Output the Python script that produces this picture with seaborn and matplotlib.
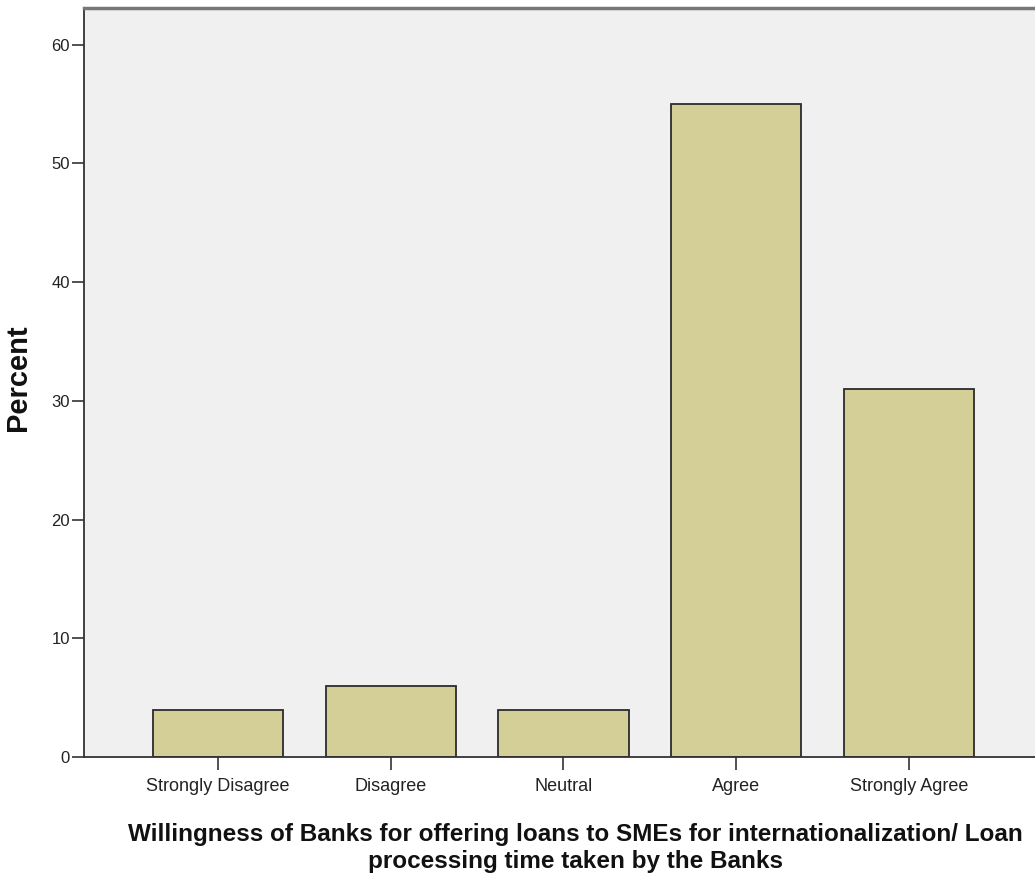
import matplotlib
matplotlib.use("Agg")
import matplotlib.pyplot as plt
import seaborn as sns
import pandas as pd

categories = ["Strongly Disagree", "Disagree", "Neutral", "Agree", "Strongly Agree"]
percents = [4, 6, 4, 55, 31]
yticks = [0, 10, 20, 30, 40, 50, 60]

sns.set_style("white")
fam = ['Liberation Sans Narrow', 'Liberation Sans', 'DejaVu Sans']
plt.rcParams['font.family'] = fam

df = pd.DataFrame({"cat": categories, "pct": percents})

fig = plt.figure(figsize=(10.35, 8.75), dpi=100)
ax = fig.add_axes([84/1035, 1-757/875, 1-84/1035, (757-8)/875])
ax.set_facecolor("#F0F0F0")

sns.barplot(data=df, x="cat", y="pct", order=categories, color="#D3CF97",
            width=0.753, edgecolor="#2b2b2b", linewidth=1.3, saturation=1, ax=ax)

ax.set_xlim(-0.776, 4.73)
ax.set_ylim(0, 63.1)
ax.set_yticks(yticks)
ax.set_yticklabels([str(t) for t in yticks], fontsize=12, color="#222222")
ax.set_xticks(range(len(categories)))
ax.set_xticklabels(categories, fontsize=13, color="#222222")
ax.tick_params(axis='y', length=8.5, width=1.2, color="#333333", pad=1.5, left=True)
ax.tick_params(axis='x', length=9, width=1.2, color="#333333", pad=6, bottom=True)

for s in ["left", "bottom"]:
    ax.spines[s].set_color("#333333")
    ax.spines[s].set_linewidth(1.3)
ax.spines["top"].set_color("#777777")
ax.spines["top"].set_linewidth(2.5)
ax.spines["right"].set_visible(False)

ax.set_xlabel("")
ax.set_ylabel("Percent", fontsize=21, fontweight="bold", color="#111111")
ax.yaxis.set_label_coords(-0.0547, 0.506)

fig.text(575/1035, 1-848/875,
         "Willingness of Banks for offering loans to SMEs for internationalization/ Loan\nprocessing time taken by the Banks",
         ha="center", va="center", fontsize=17.5, fontweight="bold", linespacing=1.2,
         color="#111111")

fig.savefig("out.png", dpi=100)
